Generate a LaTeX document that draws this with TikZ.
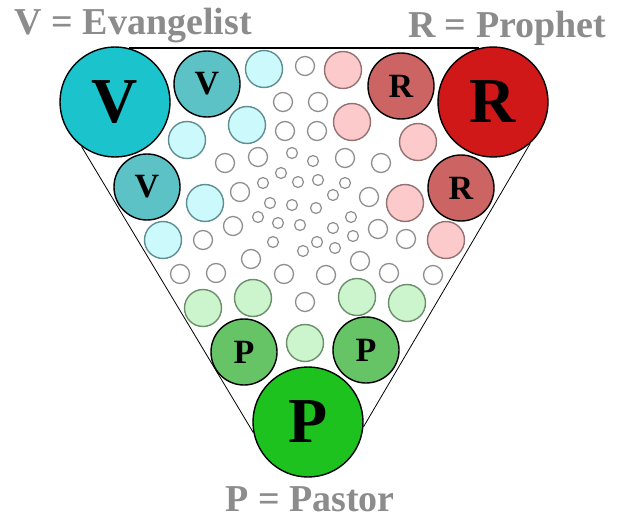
\documentclass[tikz,border=0pt]{standalone}
\usepackage{fontspec}
\setmainfont{Liberation Serif}
\usepackage{tikz}
\usepackage{xcolor}
\definecolor{VBig}{HTML}{1BC4CC}
\definecolor{VMid}{HTML}{5CC2C6}
\definecolor{VPale}{HTML}{CCF9FC}
\definecolor{VEdge}{HTML}{5F8E90}
\definecolor{RBig}{HTML}{D01818}
\definecolor{RMid}{HTML}{CC6464}
\definecolor{RPale}{HTML}{FCCACA}
\definecolor{REdge}{HTML}{957272}
\definecolor{PBig}{HTML}{1EC21E}
\definecolor{PMid}{HTML}{66C466}
\definecolor{PPale}{HTML}{CDF5CD}
\definecolor{PEdge}{HTML}{6A8F6A}
\definecolor{RingGray}{HTML}{8F8F8F}
\definecolor{LabelGray}{HTML}{8C8C8C}

\begin{document}
\begin{tikzpicture}[
    x=1pt, y=-1pt,
    every node/.style={
        circle,
        inner sep=0pt,
        line width=1.4pt
    },
    bigcirc/.style={
        fill=#1,
        draw=black,
        line width=1.4pt,
        minimum size=110pt,
        font=\fontsize{64}{64}\selectfont\bfseries
    },
    midcirc/.style={
        fill=#1,
        draw=black,
        minimum size=66pt,
        font=\fontsize{34}{34}\selectfont\bfseries
    },
    palecirc/.style 2 args={
        fill=#1,
        draw=#2,
        minimum size=37pt
    },
    ringbig/.style={
        draw=RingGray,
        fill=white,
        line width=1.3pt,
        minimum size=19pt
    },
    ringsmall/.style={
        draw=RingGray,
        fill=white,
        line width=1.2pt,
        minimum size=11pt
    },
    legend/.style={
        rectangle,
        text=LabelGray,
        text depth=0pt,
        font=\fontsize{38}{38}\selectfont\bfseries
    }
]
\useasboundingbox (0,0) rectangle (619,519);

% legend
\node[legend, anchor=base west] (lv) at (14,35) {V = Evangelist};
\node[legend, anchor=base east] (lr) at (607,38) {R = Prophet};
\node[legend, anchor=base] (lp) at (310,511) {P = Pastor};

% grey rings in the middle
\foreach \x/\y [count=\i] in {305/66, 283/102, 318/102, 285/131, 317/131,
    225/163, 258/157, 345/158, 381/163, 240/192, 369/197, 233/226, 378/229,
    203/240, 406/239, 251/259, 360/261, 180/274, 216/273, 284/274, 326/275,
    389/273, 433/275, 305/302}
    \node[ringbig] (g\i) at (\x,\y) {};
\foreach \x/\y [count=\i] in {292/153, 313/161, 263/183, 281/173, 298/182,
    318/180, 345/183, 333/195, 270/203, 292/205, 316/208, 258/217, 278/223,
    300/225, 333/228, 351/217, 273/242, 303/251, 317/242, 335/248, 353/236}
    \node[ringsmall] (s\i) at (\x,\y) {};

% pale circles
\node[palecirc={VPale}{VEdge}] (v1) at (264,69) {};
\node[palecirc={VPale}{VEdge}] (v2) at (247,125) {};
\node[palecirc={VPale}{VEdge}] (v3) at (187,140) {};
\node[palecirc={VPale}{VEdge}] (v4) at (205,203) {};
\node[palecirc={VPale}{VEdge}] (v5) at (163,240) {};

\node[palecirc={RPale}{REdge}] (r1) at (343,70) {};
\node[palecirc={RPale}{REdge}] (r2) at (352,122) {};
\node[palecirc={RPale}{REdge}] (r3) at (418,142) {};
\node[palecirc={RPale}{REdge}] (r4) at (405,203) {};
\node[palecirc={RPale}{REdge}] (r5) at (446,240) {};

\node[palecirc={PPale}{PEdge}] (p1) at (203,308) {};
\node[palecirc={PPale}{PEdge}] (p2) at (253,298) {};
\node[palecirc={PPale}{PEdge}] (p3) at (357,297) {};
\node[palecirc={PPale}{PEdge}] (p4) at (407,303) {};
\node[palecirc={PPale}{PEdge}] (p5) at (305,343) {};

% middle circles
\node[midcirc=VMid] (V1) at (207,84) {V};
\node[midcirc=VMid] (V2) at (147,187) {V};
\node[midcirc=RMid] (R1) at (401,86) {R};
\node[midcirc=RMid] (R2) at (461,188) {R};
\node[midcirc=PMid] (P1) at (244,352) {P};
\node[midcirc=PMid] (P2) at (366,350) {P};

% big corners
\node[bigcirc=VBig] (V) at (115,102) {V};
\node[bigcirc=RBig] (R) at (493,102) {R};
\node[bigcirc=PBig] (P) at (308,422) {P};

% triangle
\draw[line width=1.5pt] (V.75) -- (R.105);
\draw[line width=0.8pt] (V.-127) -- (P.-169);
\draw[line width=0.8pt] (R.-48) -- (P.-5);

\end{tikzpicture}
\end{document}
